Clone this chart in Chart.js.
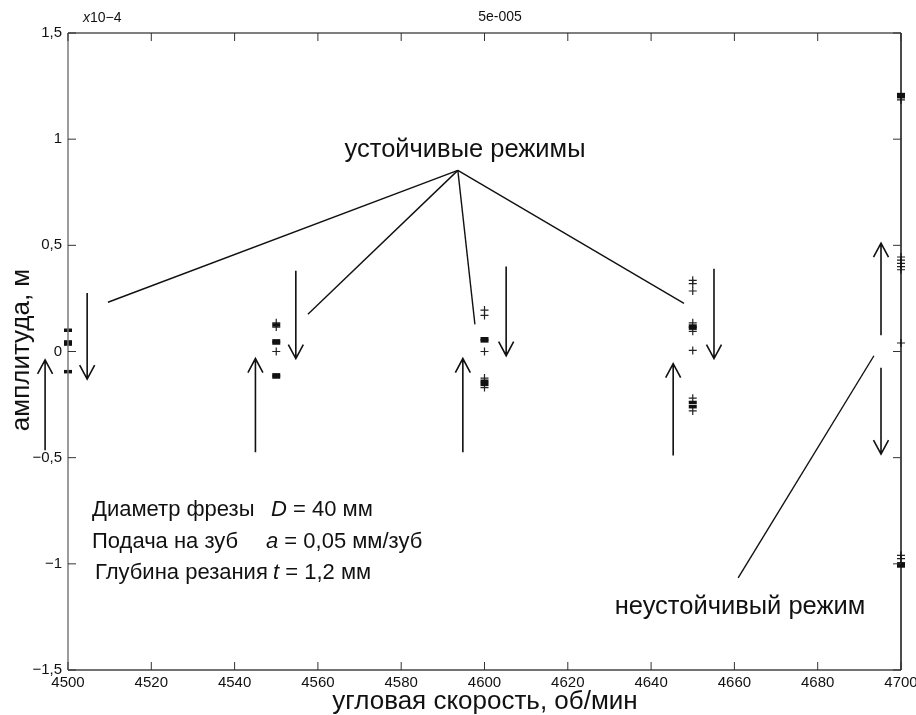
<!DOCTYPE html>
<html>
<head>
<meta charset="utf-8">
<script src="https://cdn.jsdelivr.net/npm/chart.js@4.4.1/dist/chart.umd.min.js"></script>
<style>
  html, body { margin: 0; padding: 0; background: #fff; }
  #chart { display: block; }
</style>
</head>
<body>
<canvas id="chart" width="916" height="715"></canvas>
<script>
// угловая скорость, об/мин
const speeds = [4500, 4550, 4600, 4650, 4700];
// амплитуда (x10^-4 м) - жирные штрихи
const thickAmps = [
  [0.10, 0.045, 0.035, -0.095],
  [0.125, 0.05, 0.04, -0.11, -0.12],
  [0.06, 0.05, -0.14, -0.155],
  [0.12, 0.11, -0.24, -0.26],
  [1.21, 1.20, -1.0, -1.01]
];
// тонкие метки "+"
const thinAmps = [
  [],
  [0.135, 0.115, 0.0],
  [0.195, 0.17, 0.0, -0.125, -0.17],
  [0.335, 0.32, 0.285, 0.135, 0.095, 0.005, -0.22, -0.28],
  [1.185, 0.445, 0.43, 0.415, 0.40, 0.385, 0.04, -0.96, -0.975]
];
const xTicks = [4500, 4520, 4540, 4560, 4580, 4600, 4620, 4640, 4660, 4680, 4700];
const yTicks = [-1.5, -1, -0.5, 0, 0.5, 1, 1.5];

// стрелки: [x, y начала, y конца] в единицах осей
const arrows = [
  [4494.5, -0.465, -0.04], [4504.6, 0.275, -0.13],
  [4545, -0.474, -0.033], [4554.7, 0.38, -0.033],
  [4594.8, -0.474, -0.033], [4605.2, 0.40, -0.02],
  [4645.3, -0.49, -0.057], [4655.1, 0.39, -0.033],
  [4695.2, 0.076, 0.51], [4695.2, -0.076, -0.483]
];
// выноски от надписи "устойчивые режимы"
const stableApex = [4593.6, 0.853];
const stableEnds = [[4509.6, 0.232], [4557.6, 0.175], [4597.7, 0.128], [4647.9, 0.227]];
const unstableLine = [[4660.9, -1.066], [4693.5, -0.02]];

function toPoints(lists) {
  const pts = [];
  lists.forEach((vals, i) => vals.forEach(v => pts.push({x: speeds[i], y: v})));
  return pts;
}

const fmt = v => {
  const r = Math.round(v * 10) / 10;
  return (r < 0 ? '\u2212' : '') + String(Math.abs(r)).replace('.', ',');
};

const FONT = '"Liberation Sans", Arial, sans-serif';

const decor = {
  id: 'decor',
  afterDraw(chart) {
    const {ctx, chartArea: a} = chart;
    const X = v => chart.scales.x.getPixelForValue(v);
    const Y = v => chart.scales.y.getPixelForValue(v);
    ctx.save();

    // рамка
    ctx.lineWidth = 1.5;
    ctx.strokeStyle = '#7a7a7a';
    ctx.beginPath(); ctx.moveTo(a.left, a.top); ctx.lineTo(a.left, a.bottom); ctx.stroke();
    ctx.strokeStyle = '#444';
    ctx.beginPath(); ctx.moveTo(a.left, a.bottom); ctx.lineTo(a.right, a.bottom); ctx.stroke();
    ctx.strokeStyle = '#555';
    ctx.beginPath(); ctx.moveTo(a.left, a.top); ctx.lineTo(a.right, a.top); ctx.stroke();
    ctx.strokeStyle = '#111';
    ctx.beginPath(); ctx.moveTo(a.right, a.top); ctx.lineTo(a.right, a.bottom); ctx.stroke();

    // засечки внутрь
    ctx.lineWidth = 1;
    ctx.strokeStyle = '#333';
    xTicks.forEach(t => {
      const px = X(t);
      ctx.beginPath();
      ctx.moveTo(px, a.bottom); ctx.lineTo(px, a.bottom - 8);
      ctx.moveTo(px, a.top); ctx.lineTo(px, a.top + 8);
      ctx.stroke();
    });
    yTicks.forEach(t => {
      const py = Y(t);
      ctx.beginPath();
      ctx.moveTo(a.left, py); ctx.lineTo(a.left + 8, py);
      ctx.moveTo(a.right, py); ctx.lineTo(a.right - 8, py);
      ctx.stroke();
    });

    // стрелки
    ctx.strokeStyle = '#111';
    ctx.lineWidth = 1.6;
    arrows.forEach(([xv, y0, y1]) => {
      const px = X(xv), p0 = Y(y0), p1 = Y(y1);
      const dir = p1 > p0 ? -1 : 1;
      ctx.beginPath();
      ctx.moveTo(px, p0); ctx.lineTo(px, p1);
      ctx.moveTo(px - 7.5, p1 + dir * 14); ctx.lineTo(px, p1); ctx.lineTo(px + 7.5, p1 + dir * 14);
      ctx.stroke();
    });

    // выноски
    ctx.lineWidth = 1.4;
    stableEnds.forEach(([xv, yv]) => {
      ctx.beginPath();
      ctx.moveTo(X(stableApex[0]), Y(stableApex[1]));
      ctx.lineTo(X(xv), Y(yv));
      ctx.stroke();
    });
    ctx.beginPath();
    ctx.moveTo(X(unstableLine[0][0]), Y(unstableLine[0][1]));
    ctx.lineTo(X(unstableLine[1][0]), Y(unstableLine[1][1]));
    ctx.stroke();

    // надписи
    ctx.fillStyle = '#111';
    ctx.textBaseline = 'middle';
    ctx.textAlign = 'center';
    ctx.font = '25.5px ' + FONT;
    ctx.fillText('устойчивые режимы', 465, 150);
    ctx.fillText('неустойчивый режим', 740, 607);

    ctx.textAlign = 'left';
    // [x текста, x переменной, y, подпись, переменная, значение]
    const lines = [
      [92, 271, 510, 'Диаметр фрезы', 'D', ' = 40 мм'],
      [92, 266, 542, 'Подача на зуб', 'a', ' = 0,05 мм/зуб'],
      [95, 273, 573, 'Глубина резания', 't', ' = 1,2 мм']
    ];
    lines.forEach(([x1, x2, py, s1, s2, s3]) => {
      ctx.font = '22px ' + FONT; ctx.fillText(s1, x1, py);
      ctx.font = 'italic 22px ' + FONT; ctx.fillText(s2, x2, py);
      const w = ctx.measureText(s2).width;
      ctx.font = '22px ' + FONT; ctx.fillText(s3, x2 + w, py);
    });

    // подписи осей
    ctx.font = '26px ' + FONT;
    ctx.textAlign = 'center';
    ctx.fillText('угловая скорость, об/мин', 485, 702);
    ctx.save();
    ctx.translate(22, 350);
    ctx.rotate(-Math.PI / 2);
    ctx.fillText('амплитуда, м', 0, 0);
    ctx.restore();

    // множитель
    ctx.textAlign = 'left';
    ctx.font = 'italic 14px ' + FONT;
    ctx.fillText('x', 83, 18);
    ctx.font = '14px ' + FONT;
    ctx.fillText('10\u22124', 90, 18);
    ctx.textAlign = 'center';
    ctx.fillText('5e-005', 500, 17);

    ctx.restore();
  }
};

new Chart(document.getElementById('chart'), {
  type: 'scatter',
  data: {
    datasets: [{
      label: 'thick',
      data: toPoints(thickAmps),
      pointStyle: 'line',
      pointRadius: 4,
      borderWidth: 3.5,
      borderColor: '#111',
      backgroundColor: '#111',
      clip: false
    }, {
      label: 'thin',
      data: toPoints(thinAmps),
      pointStyle: 'cross',
      pointRadius: 4,
      borderWidth: 1.2,
      borderColor: '#222',
      backgroundColor: '#222',
      clip: false
    }]
  },
  options: {
    responsive: false,
    animation: false,
    layout: { padding: { top: 33, right: 15, left: 0, bottom: 0 } },
    plugins: {
      legend: { display: false },
      tooltip: { enabled: false }
    },
    scales: {
      x: {
        type: 'linear',
        min: 4500,
        max: 4700,
        afterBuildTicks: s => { s.ticks = xTicks.map(v => ({value: v})); },
        afterFit: s => { s.height = 45; s.paddingLeft = 0; s.paddingRight = 0; },
        grid: { display: false },
        border: { display: false },
        ticks: {
          padding: -4,
          color: '#111',
          font: { family: FONT, size: 15 },
          maxRotation: 0,
          callback: v => String(v)
        }
      },
      y: {
        min: -1.5,
        max: 1.5,
        afterBuildTicks: s => { s.ticks = yTicks.map(v => ({value: v})); },
        afterFit: s => { s.width = 68; s.paddingTop = 0; s.paddingBottom = 0; },
        grid: { display: false },
        border: { display: false },
        ticks: {
          padding: -2,
          color: '#111',
          font: { family: FONT, size: 15 },
          callback: v => fmt(v)
        }
      }
    }
  },
  plugins: [decor]
});
</script>
</body>
</html>
